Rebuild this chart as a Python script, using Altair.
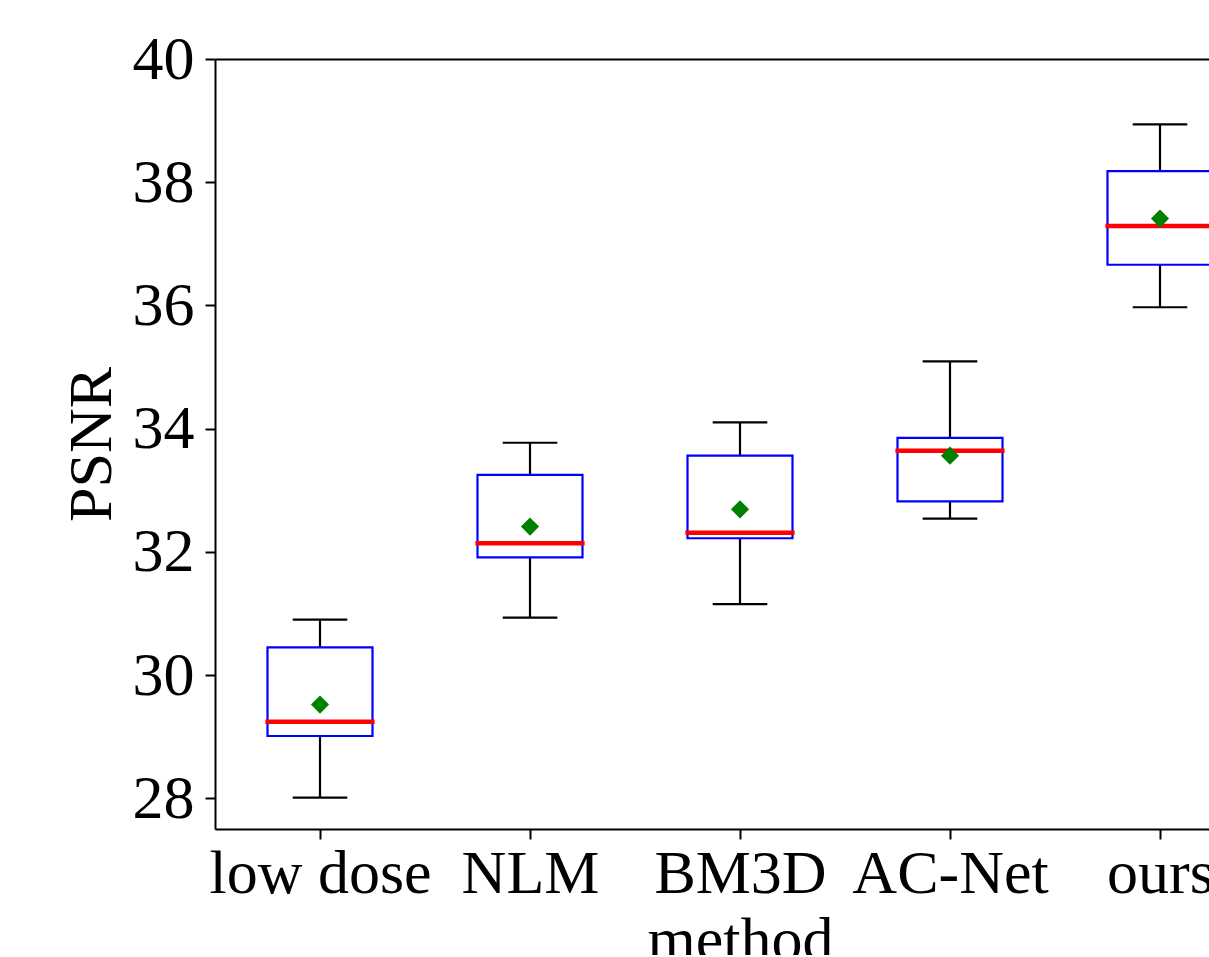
import altair as alt
import pandas as pd

methods = ["low dose", "NLM", "BM3D", "AC-Net", "ours"]
positions = [1, 2, 3, 4, 5]
whisker_lo = [28.01, 30.93, 31.15, 32.54, 35.97]
q1 = [29.01, 31.91, 32.22, 32.82, 36.66]
median = [29.24, 32.14, 32.31, 33.64, 37.29]
q3 = [30.45, 33.25, 33.56, 33.85, 38.18]
whisker_hi = [30.90, 33.77, 34.10, 35.09, 38.94]
mean = [29.52, 32.41, 32.69, 33.56, 37.41]

BOX_HALF = 0.25
CAP_HALF = 0.13
MED_HALF = 0.26

df = pd.DataFrame({
    "method": methods,
    "pos": positions,
    "lo": whisker_lo,
    "q1": q1,
    "med": median,
    "q3": q3,
    "hi": whisker_hi,
    "mean": mean,
})
df["box_l"] = df["pos"] - BOX_HALF
df["box_r"] = df["pos"] + BOX_HALF
df["cap_l"] = df["pos"] - CAP_HALF
df["cap_r"] = df["pos"] + CAP_HALF
df["med_l"] = df["pos"] - MED_HALF
df["med_r"] = df["pos"] + MED_HALF

FONT = "Liberation Serif"
PLOT_W = 994
PLOT_H = 770
PX_PER_UNIT = 210.0
xscale = alt.Scale(domain=[0.5, 0.5 + PLOT_W / PX_PER_UNIT], nice=False, zero=False)
yscale = alt.Scale(domain=[27.5, 40], nice=False, zero=False)

label_expr = "datum.value == 1 ? 'low dose' : datum.value == 2 ? 'NLM' : datum.value == 3 ? 'BM3D' : datum.value == 4 ? 'AC-Net' : 'ours'"

x_bottom = alt.Axis(
    values=positions, labelExpr=label_expr, title="method",
    labelFont=FONT, labelFontSize=62, labelColor="black",
    labelBaseline="alphabetic", labelPadding=53, labelOverlap=False,
    labelFlush=False, labelBound=False, labelAlign="center", labelLimit=0,
    tickSize=10, tickWidth=2, tickColor="black",
    domainColor="black", domainWidth=2, grid=False,
    titleFont=FONT, titleFontSize=62, titleFontWeight="normal", titleColor="black",
    titleBaseline="alphabetic", titleX=525, titleY=130, titleAlign="center",
    titleAnchor="start", titleLimit=0,
)
x_top = alt.Axis(
    orient="top", labels=False, ticks=False, title=None, grid=False,
    domainColor="black", domainWidth=2,
)
y_left = alt.Axis(
    values=[28, 30, 32, 34, 36, 38, 40], title="PSNR",
    labelFont=FONT, labelFontSize=62, labelColor="black", labelPadding=11,
    labelBaseline="middle", labelFlush=False, labelOverlap=False, labelLimit=0,
    tickSize=10, tickWidth=2, tickColor="black",
    domainColor="black", domainWidth=2, grid=False,
    titleFont=FONT, titleFontSize=62, titleFontWeight="normal", titleColor="black",
    titleAngle=270, titleBaseline="alphabetic", titleX=-105, titleY=PLOT_H / 2,
    titleAlign="center", titleAnchor="start", titleLimit=0,
)

base = alt.Chart(df)

whisk_low = base.mark_rule(color="black", strokeWidth=2.2, clip=True).encode(
    x=alt.X("pos:Q", scale=xscale, axis=x_bottom),
    y=alt.Y("lo:Q", scale=yscale, axis=y_left),
    y2="q1:Q",
)
whisk_high = base.mark_rule(color="black", strokeWidth=2.2, clip=True).encode(
    x=alt.X("pos:Q", scale=xscale, axis=None),
    y=alt.Y("q3:Q", scale=yscale, axis=None),
    y2="hi:Q",
)
cap_low = base.mark_rule(color="black", strokeWidth=2.2, clip=True).encode(
    x=alt.X("cap_l:Q", scale=xscale, axis=None),
    x2="cap_r:Q",
    y=alt.Y("lo:Q", scale=yscale, axis=None),
)
cap_high = base.mark_rule(color="black", strokeWidth=2.2, clip=True).encode(
    x=alt.X("cap_l:Q", scale=xscale, axis=None),
    x2="cap_r:Q",
    y=alt.Y("hi:Q", scale=yscale, axis=None),
)
boxes = base.mark_rect(fill=None, fillOpacity=0, stroke="#0000ff", strokeWidth=2.2, clip=True).encode(
    x=alt.X("box_l:Q", scale=xscale, axis=x_top),
    x2="box_r:Q",
    y=alt.Y("q1:Q", scale=yscale, axis=None),
    y2="q3:Q",
)
medians = base.mark_rule(color="#ff0000", strokeWidth=4.5, clip=True).encode(
    x=alt.X("med_l:Q", scale=xscale, axis=None),
    x2="med_r:Q",
    y=alt.Y("med:Q", scale=yscale, axis=None),
)
means = base.mark_point(shape="diamond", filled=True, color="#008000", size=330, opacity=1, clip=True).encode(
    x=alt.X("pos:Q", scale=xscale, axis=None),
    y=alt.Y("mean:Q", scale=yscale, axis=None),
)

chart = alt.layer(
    whisk_low, whisk_high, cap_low, cap_high, boxes, medians, means
).resolve_axis(x="independent", y="independent").properties(
    width=PLOT_W,
    height=PLOT_H,
    autosize=alt.AutoSizeParams(type="none"),
    padding={"left": 215, "top": 59, "right": 0, "bottom": 126},
    background="white",
).configure_view(stroke=None)

chart.save("out.html", embed_options={"renderer": "svg", "actions": False})
